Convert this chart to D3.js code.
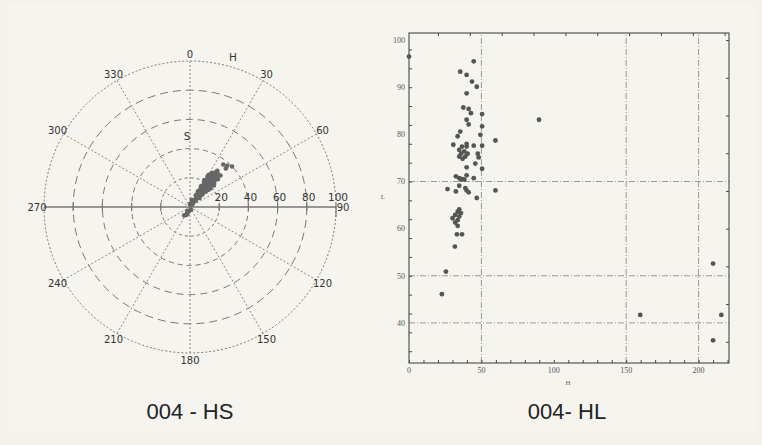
<!DOCTYPE html>
<html>
<head>
<meta charset="utf-8">
<script src="https://cdn.jsdelivr.net/npm/d3@7"></script>
<style>
  body { margin: 0; background: #f3f3ec; }
  svg { display: block; }
</style>
</head>
<body>
<svg id="chart" width="762" height="445"></svg>
<script>
// HS polar plot: hue (deg) / saturation
const hsHue = [36,40,32,38,34,41,36,33,39,35,37,41,33,36,39,34,38,35,40,33,37,36,39,34,37,35,40,33,38,36,34,39,37,35,38,36,34,37,35,38,36,39,37,41,44,45,42,38,42,46,43,13,0,195,200,205,210,215,212,160,25,47,
  29,45,30,46,28,47,31,48,29,44,32,46,30,43,31,45,42,28,44,30,27,48,41,33,43,26,35,44];
const hsSat = [2,3,4,5,6,6,7,8,8,9,10,10,11,12,12,13,13,14,14,15,15,16,17,17,18,19,19,20,20,21,22,22,23,24,24,25,26,26,27,28,29,30,31,24,20,27,17,37,38,40,36,5,2,3,5,6,4,7,3,2,3,9,
  10,12,14,15,16,17,18,19,20,21,22,23,24,25,26,18,13,21,16,25,12,22,28,28,27,9,11,30];

// HL scatter: hue / lightness
const hlHue = [0,44.7,35.4,39.8,43.5,46.8,39.8,37.5,41.2,42.8,50.5,39.8,41.2,89.8,50.5,35.4,33.6,49.3,59.7,30.6,39.8,36.6,39.8,34.7,38.2,35.9,40.5,34.7,38.9,37.0,44.7,50.5,47.5,48.1,45.8,39.8,50.5,32.4,34.7,37.0,39.8,35.9,38.2,44.7,26.6,32.4,34.7,38.9,39.8,41.2,59.7,46.8,34.7,33.6,35.9,31.9,34.7,30.1,33.6,31.9,33.6,33.1,36.6,31.7,25.5,22.7,159.7,210,215.7,210];
const hlLight = [96.5,95.5,93.3,92.6,91.2,90.1,88.7,85.7,85.4,84.5,84.3,83.1,82.1,83.1,81.7,80.6,79.6,79.9,78.7,77.8,78.0,77.4,77.4,76.7,76.4,75.9,75.9,75.3,75.3,74.8,77.6,77.6,75.9,75.1,73.8,73.0,72.7,71.1,70.7,70.5,71.3,70.4,70.4,70.7,68.4,67.9,69.1,68.6,68.1,67.7,68.1,66.5,64.1,63.6,63.3,62.9,62.6,62.2,61.8,61.3,60.6,58.8,58.8,56.2,50.9,46.1,41.7,52.6,41.7,36.3];

const ringValues = [20, 40, 60, 80, 100];
const ringDash = ["3,3", "5,4", "7,5", "8,5", "2,2"];
const angleTicks = d3.range(0, 360, 30);

const hlYLabels = [40, 50, 60, 70, 80, 90, 100];
const hlXLabels = [0, 50, 100, 150, 200];
const hlGridX = [50, 150, 200];
const hlGridY = [40, 50, 70];

const svg = d3.select("#chart");

svg.append("rect")
  .attr("x", 8).attr("y", 6).attr("width", 747).attr("height", 426)
  .attr("fill", "#f6f4ee");

// ---------- polar ----------
const cx = 190, cy = 207;
const r = d3.scaleLinear().domain([0, 100]).range([0, 146]);
const rad = d => d * Math.PI / 180;

const polar = svg.append("g").attr("transform", `translate(${cx},${cy})`);

polar.selectAll("circle.ring")
  .data(ringValues)
  .enter().append("circle")
  .attr("class", "ring")
  .attr("r", d => r(d))
  .attr("fill", "none")
  .attr("stroke", "#777")
  .attr("stroke-width", 1)
  .attr("stroke-dasharray", (d, i) => ringDash[i]);

polar.selectAll("line.spoke")
  .data(angleTicks.filter(a => a !== 90 && a !== 270))
  .enter().append("line")
  .attr("class", "spoke")
  .attr("x1", 0).attr("y1", 0)
  .attr("x2", d => r(100) * Math.sin(rad(d)))
  .attr("y2", d => -r(100) * Math.cos(rad(d)))
  .attr("stroke", "#888")
  .attr("stroke-dasharray", "2,2");

// horizontal axis 270 - 90
polar.append("line")
  .attr("x1", -r(100)).attr("x2", r(100))
  .attr("y1", 0).attr("y2", 0)
  .attr("stroke", "#777").attr("stroke-width", 1.3);

polar.selectAll("line.rtick")
  .data(ringValues.concat(ringValues.slice(0, 4).map(v => -v)))
  .enter().append("line")
  .attr("class", "rtick")
  .attr("x1", d => d < 0 ? -r(-d) : r(d))
  .attr("x2", d => d < 0 ? -r(-d) : r(d))
  .attr("y1", -4).attr("y2", d => d === 100 ? 10 : 4)
  .attr("stroke", "#777").attr("stroke-width", 1.2);

polar.selectAll("text.rlab")
  .data(ringValues)
  .enter().append("text")
  .attr("class", "rlab")
  .attr("x", d => r(d) + 2)
  .attr("y", -6)
  .attr("text-anchor", "middle")
  .attr("font-family", "DejaVu Sans, sans-serif")
  .attr("font-size", 10.5)
  .attr("fill", "#333")
  .text(d => d);

polar.selectAll("text.alab")
  .data(angleTicks)
  .enter().append("text")
  .attr("class", "alab")
  .attr("x", d => (r(100) + 7) * Math.sin(rad(d)))
  .attr("y", d => -(r(100) + 7) * Math.cos(rad(d)))
  .attr("dy", "0.35em")
  .attr("text-anchor", "middle")
  .attr("font-family", "DejaVu Sans, sans-serif")
  .attr("font-size", 10)
  .attr("fill", "#333")
  .text(d => d);

polar.append("text")
  .attr("x", 43).attr("y", -150).attr("dy", "0.35em")
  .attr("text-anchor", "middle")
  .attr("font-family", "DejaVu Sans, sans-serif")
  .attr("font-size", 10.5).attr("fill", "#333")
  .text("H");

polar.append("text")
  .attr("x", -3).attr("y", -71).attr("dy", "0.35em")
  .attr("text-anchor", "middle")
  .attr("font-family", "DejaVu Sans, sans-serif")
  .attr("font-size", 10.5).attr("fill", "#333")
  .text("S");

polar.selectAll("circle.pt")
  .data(hsHue.map((h, i) => [h, hsSat[i]]))
  .enter().append("circle")
  .attr("class", "pt")
  .attr("cx", d => r(d[1]) * Math.sin(rad(d[0])))
  .attr("cy", d => -r(d[1]) * Math.cos(rad(d[0])))
  .attr("r", 2.3)
  .attr("fill", "#666");

svg.append("text")
  .attr("x", cx).attr("y", 419)
  .attr("text-anchor", "middle")
  .attr("font-family", "Liberation Sans, Arial, sans-serif")
  .attr("font-size", 22).attr("fill", "#222")
  .text("004 - HS");

// ---------- HL scatter ----------
const x = d3.scaleLinear().domain([0, 221]).range([409, 729]);
const y = d3.scaleLinear().domain([31.5, 101.5]).range([363, 33]);

const hl = svg.append("g");

hl.selectAll("line.gx")
  .data(hlGridX)
  .enter().append("line")
  .attr("x1", d => x(d)).attr("x2", d => x(d))
  .attr("y1", y.range()[0]).attr("y2", y.range()[1])
  .attr("stroke", "#999")
  .attr("stroke-dasharray", "6,2,1,2");

hl.selectAll("line.gy")
  .data(hlGridY)
  .enter().append("line")
  .attr("x1", x.range()[0]).attr("x2", x.range()[1])
  .attr("y1", d => y(d)).attr("y2", d => y(d))
  .attr("stroke", "#999")
  .attr("stroke-dasharray", "6,2,1,2");

// minor ticks, all inward
const tickLen = 3;
hl.append("g")
  .attr("transform", `translate(0,${y.range()[0]})`)
  .call(d3.axisTop(x).tickValues(d3.range(0, 221, 10)).tickSize(tickLen).tickFormat(""))
  .call(g => g.select(".domain").remove());
hl.append("g")
  .attr("transform", `translate(0,${y.range()[1]})`)
  .call(d3.axisBottom(x).tickValues(d3.range(20, 221, 22)).tickSize(tickLen).tickFormat(""))
  .call(g => g.select(".domain").remove());
hl.append("g")
  .attr("transform", `translate(${x.range()[0]},0)`)
  .call(d3.axisRight(y).tickValues(d3.range(34, 101, 4)).tickSize(tickLen).tickFormat(""))
  .call(g => g.select(".domain").remove());
hl.append("g")
  .attr("transform", `translate(${x.range()[1]},0)`)
  .call(d3.axisLeft(y).tickValues(d3.range(36, 101, 8)).tickSize(tickLen).tickFormat(""))
  .call(g => g.select(".domain").remove());
hl.selectAll(".tick line").attr("stroke", "#444");

hl.append("rect")
  .attr("x", x.range()[0]).attr("y", y.range()[1])
  .attr("width", x.range()[1] - x.range()[0])
  .attr("height", y.range()[0] - y.range()[1])
  .attr("fill", "none").attr("stroke", "#555").attr("stroke-width", 1.2);

hl.selectAll("text.yl")
  .data(hlYLabels)
  .enter().append("text")
  .attr("x", x.range()[0] - 4)
  .attr("y", d => y(d)).attr("dy", "0.35em")
  .attr("text-anchor", "end")
  .attr("font-family", "Liberation Serif, serif")
  .attr("font-size", 8).attr("fill", "#555")
  .text(d => d);

hl.selectAll("text.xl")
  .data(hlXLabels)
  .enter().append("text")
  .attr("x", d => x(d))
  .attr("y", 373)
  .attr("text-anchor", "middle")
  .attr("font-family", "Liberation Serif, serif")
  .attr("font-size", 8).attr("fill", "#555")
  .text(d => d);

hl.append("text")
  .attr("x", 568).attr("y", 385)
  .attr("text-anchor", "middle")
  .attr("font-family", "Liberation Serif, serif")
  .attr("font-size", 7).attr("fill", "#666")
  .text("H");

hl.append("text")
  .attr("x", 383).attr("y", 199)
  .attr("text-anchor", "middle")
  .attr("font-family", "Liberation Serif, serif")
  .attr("font-size", 7).attr("fill", "#666")
  .text("L");

hl.selectAll("circle.pt")
  .data(hlHue.map((h, i) => [h, hlLight[i]]))
  .enter().append("circle")
  .attr("class", "pt")
  .attr("cx", d => x(d[0]))
  .attr("cy", d => y(d[1]))
  .attr("r", 2.4)
  .attr("fill", "#555");

svg.append("text")
  .attr("x", 567).attr("y", 419)
  .attr("text-anchor", "middle")
  .attr("font-family", "Liberation Sans, Arial, sans-serif")
  .attr("font-size", 22).attr("fill", "#222")
  .text("004- HL");
</script>
</body>
</html>
